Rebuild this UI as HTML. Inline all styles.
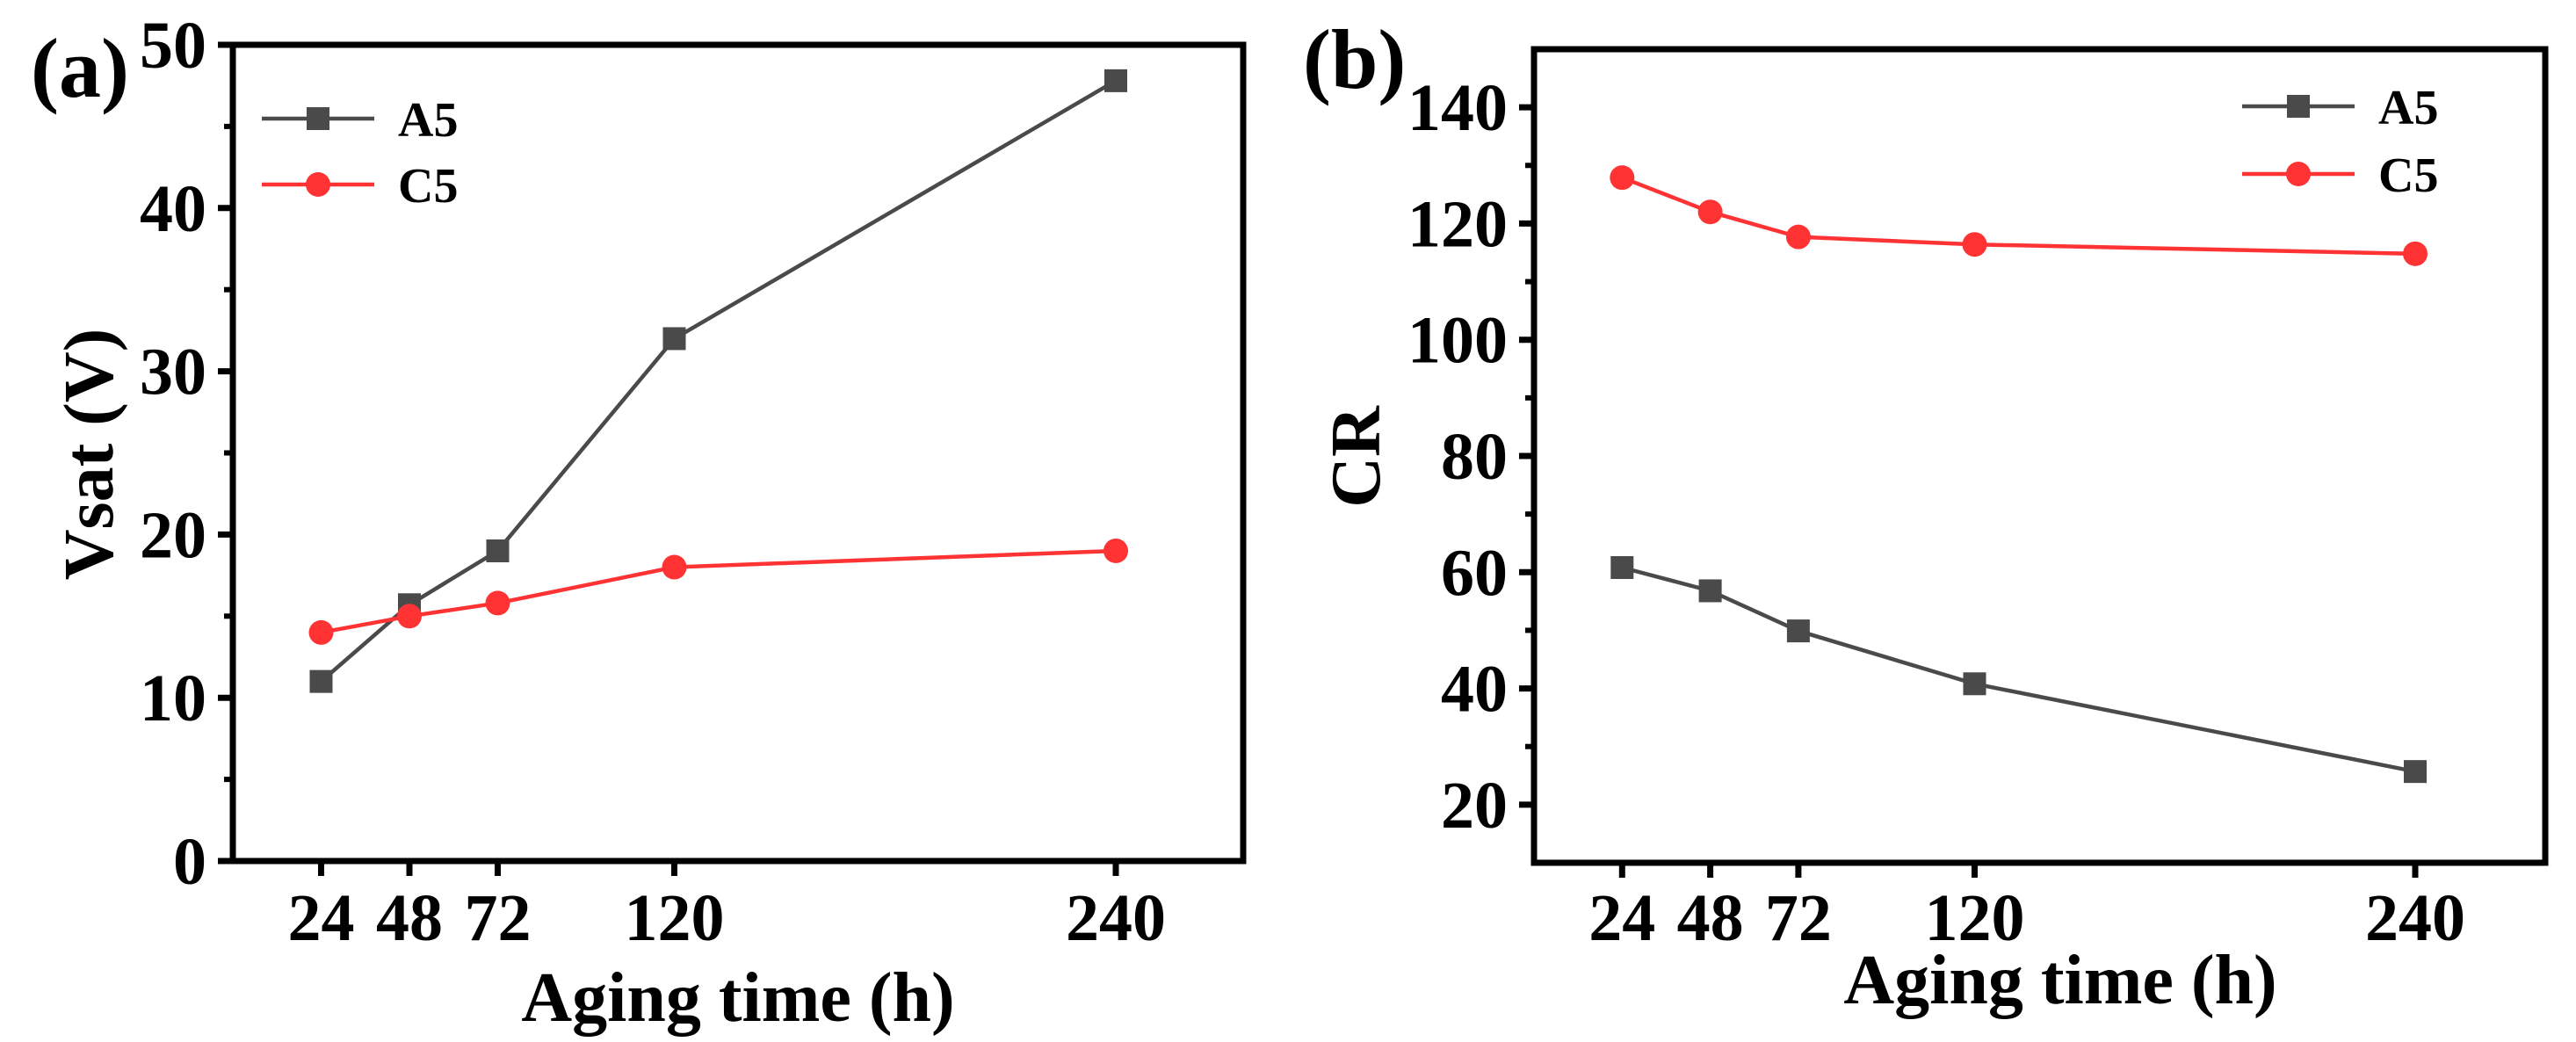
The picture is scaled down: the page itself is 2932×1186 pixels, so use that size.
<!DOCTYPE html>
<html><head><meta charset="utf-8"><style>
html,body{margin:0;padding:0;background:#fff;}
svg{display:block;}
text{font-family:"Liberation Serif",serif;font-weight:bold;fill:#000;}
</style></head><body>
<svg id="chart" width="2932" height="1186" viewBox="0 0 2932 1186" xmlns="http://www.w3.org/2000/svg">
<rect width="2932" height="1186" fill="#fff"/>
<g id="pa"></g>
<g id="pb"></g>
</svg>
<script>
const hours = [24, 48, 72, 120, 240];
const vsatA5 = [11, 15.7, 19, 32, 47.8];
const vsatC5 = [14, 15, 15.8, 18, 19];
const crA5 = [60.8, 56.8, 49.9, 40.8, 25.7];
const crC5 = [127.9, 122, 117.7, 116.4, 114.8];
const ticksA = [0, 10, 20, 30, 40, 50];
const ticksB = [20, 40, 60, 80, 100, 120, 140];

const NS = "http://www.w3.org/2000/svg";
function mk(parent, tag, attrs) {
  const e = document.createElementNS(NS, tag);
  for (const k in attrs) e.setAttribute(k, attrs[k]);
  parent.appendChild(e);
  return e;
}

function panel(g, cfg) {
  const xs = h => cfg.L + h * (cfg.R240 - cfg.L) / 240;
  const ys = v => cfg.B - (v - cfg.ymin) * (cfg.B - cfg.T) / (cfg.ymax - cfg.ymin);
  // frame
  const fr = mk(g, 'rect', {x: cfg.L, y: cfg.T, width: cfg.R - cfg.L, height: cfg.B - cfg.T, fill: 'none', stroke: '#000', 'stroke-width': 7});
  
  
  // y ticks
  cfg.yticks.forEach(v => {
    const t = mk(g, 'line', {x1: cfg.L - 17, x2: cfg.L, y1: ys(v), y2: ys(v), stroke: '#000', 'stroke-width': 7});
    
    
    const lb = mk(g, 'text', {x: cfg.L - 30, y: ys(v) + 26, 'text-anchor': 'end', 'font-size': 76});
    lb.textContent = v;
    
    
  });
  cfg.yminor.forEach(v => {
    const t = mk(g, 'line', {x1: cfg.L - 10, x2: cfg.L, y1: ys(v), y2: ys(v), stroke: '#000', 'stroke-width': 6});
    
    
  });
  // x ticks
  hours.forEach(h => {
    const t = mk(g, 'line', {x1: xs(h), x2: xs(h), y1: cfg.B, y2: cfg.B + 17, stroke: '#000', 'stroke-width': 7});
    
    
    const lb = mk(g, 'text', {x: xs(h), y: 1070, 'text-anchor': 'middle', 'font-size': 76});
    lb.textContent = h;
    
    
  });
  // series
  const series = [
    {vals: cfg.a5, color: '#4a4a4a', sq: true, name: 'a5'},
    {vals: cfg.c5, color: '#ff3333', sq: false, name: 'c5'}
  ];
  series.forEach(s => {
    const pts = hours.map((h, i) => xs(h) + ',' + ys(s.vals[i])).join(' ');
    const pl = mk(g, 'polyline', {points: pts, fill: 'none', stroke: s.color, 'stroke-width': 4.5});
    
    
    hours.forEach((h, i) => {
      let m;
      if (s.sq) m = mk(g, 'rect', {x: xs(h) - 13, y: ys(s.vals[i]) - 13, width: 26, height: 26, fill: s.color});
      else m = mk(g, 'circle', {cx: xs(h), cy: ys(s.vals[i]), r: 14, fill: s.color});
      
      
    });
  });
  // legend
  const leg = [{y: cfg.legY[0], c: '#4a4a4a', sq: true, t: 'A5'}, {y: cfg.legY[1], c: '#ff3333', sq: false, t: 'C5'}];
  leg.forEach(l => {
    const ln = mk(g, 'line', {x1: cfg.legX, x2: cfg.legX + 128, y1: l.y, y2: l.y, stroke: l.c, 'stroke-width': 4.5});
    
    
    let m;
    if (l.sq) m = mk(g, 'rect', {x: cfg.legX + 51, y: l.y - 13, width: 26, height: 26, fill: l.c});
    else m = mk(g, 'circle', {cx: cfg.legX + 64, cy: l.y, r: 14, fill: l.c});
    
    
    const tx = mk(g, 'text', {x: cfg.legX + 155, y: l.y + 20, 'font-size': 56});
    tx.textContent = l.t;
    
    
  });
}

const pa = document.getElementById('pa');
panel(pa, {L: 265, R: 1415, R240: 1270, T: 51, B: 980, ymin: 0, ymax: 50,
  yticks: ticksA, yminor: [5, 15, 25, 35, 45], a5: vsatA5, c5: vsatC5, legX: 298, legY: [135, 210]});
const pb = document.getElementById('pb');
panel(pb, {L: 1746, R: 2897, R240: 2749, T: 56, B: 982, ymin: 10, ymax: 150,
  yticks: ticksB, yminor: [30, 50, 70, 90, 110, 130], a5: crA5, c5: crC5, legX: 2552, legY: [121, 198]});

function txt(parent, attrs, s, name) {
  const t = mk(parent, 'text', attrs);
  t.textContent = s;
  
  
  return t;
}
txt(pa, {x: 35, y: 110, 'font-size': 96}, '(a)', 'panel-label-a');
txt(pb, {x: 1483, y: 100, 'font-size': 96}, '(b)', 'panel-label-b');
txt(pa, {x: 840, y: 1162, 'text-anchor': 'middle', 'font-size': 80}, 'Aging time (h)', 'x-axis-title-a');
txt(pb, {x: 2345, y: 1142, 'text-anchor': 'middle', 'font-size': 80}, 'Aging time (h)', 'x-axis-title-b');
txt(pa, {x: 0, y: 0, 'text-anchor': 'middle', 'font-size': 80, transform: 'translate(128,517) rotate(-90)'}, 'Vsat (V)', 'y-axis-title-a');
txt(pb, {x: 0, y: 0, 'text-anchor': 'middle', 'font-size': 80, transform: 'translate(1570,520) rotate(-90)'}, 'CR', 'y-axis-title-b');
</script>
</body></html>
